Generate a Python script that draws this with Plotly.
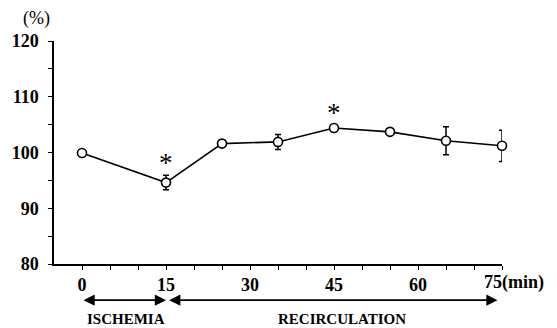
import plotly.graph_objects as go

times = [0, 15, 25, 35, 45, 55, 65, 75]
values = [99.9, 94.6, 101.6, 101.9, 104.4, 103.7, 102.1, 101.2]
errors = [0.0, 1.3, 0.6, 1.35, 0.6, 0.4, 2.5, 2.8]
star_times = [15, 45]
y_ticks = [80, 85, 90, 95, 100, 105, 110, 115, 120]
y_labels = ["80", "", "90", "", "100", "", "110", "", "120"]
x_ticks = [0, 5, 10, 15, 20, 25, 30, 35, 40, 45, 50, 55, 60, 65, 70, 75]
x_labels = ["0", "", "", "15", "", "", "30", "", "", "45", "", "", "60", "", "", ""]
last_label = "75(min)"

FONT = "Times New Roman"

fig = go.Figure()
fig.add_trace(go.Scatter(
    x=times, y=values,
    mode="lines+markers",
    line=dict(color="black", width=1.6),
    marker=dict(symbol="circle", size=9, color="white", line=dict(color="black", width=1.6)),
    error_y=dict(type="data", array=errors, visible=True, color="black", thickness=1.5, width=3),
    cliponaxis=False,
    showlegend=False,
))

for t in star_times:
    i = times.index(t)
    fig.add_annotation(x=t, y=values[i] + errors[i], xref="x", yref="y",
                       text="*", showarrow=False, yanchor="bottom", yshift=-5,
                       font=dict(family=FONT, size=27, color="black"))

fig.add_annotation(x=x_ticks[-1], y=0, xref="x", yref="paper", text="<b>" + last_label + "</b>",
                   showarrow=False, xanchor="left", yanchor="middle", xshift=-20, yshift=-18,
                   font=dict(family=FONT, size=18, color="black"))
fig.add_annotation(x=-0.038, y=1.0, xref="paper", yref="paper", text="(%)", showarrow=False,
                   xanchor="center", yanchor="bottom", yshift=10,
                   font=dict(family=FONT, size=18, color="black"))

arrow_y = -0.162
fig.add_annotation(x=15, y=arrow_y, xref="x", yref="paper", ax=0, ay=0, axref="x", ayref="pixel",
                   text="", showarrow=True, arrowhead=2, startarrowhead=2, arrowside="end+start",
                   arrowsize=1.4, startarrowsize=1.4, arrowwidth=1.6, arrowcolor="black")
fig.add_annotation(x=74.2, y=arrow_y, xref="x", yref="paper", ax=15.3, ay=0, axref="x", ayref="pixel",
                   text="", showarrow=True, arrowhead=2, startarrowhead=2, arrowside="end+start",
                   arrowsize=1.4, startarrowsize=1.4, arrowwidth=1.6, arrowcolor="black")

fig.add_annotation(x=7.8, y=-0.245, xref="x", yref="paper", text="<b>ISCHEMIA</b>", showarrow=False,
                   xanchor="center", yanchor="middle", borderpad=0,
                   font=dict(family=FONT, size=15, color="black"))
fig.add_annotation(x=46.5, y=-0.245, xref="x", yref="paper", text="<b>RECIRCULATION</b>", showarrow=False,
                   xanchor="center", yanchor="middle", borderpad=0,
                   font=dict(family=FONT, size=15, color="black"))

fig.update_layout(
    width=557, height=328,
    margin=dict(l=51, r=55, t=41, b=64),
    paper_bgcolor="white", plot_bgcolor="white",
    font=dict(family=FONT, color="black"),
    xaxis=dict(range=[-5, 75], tickmode="array", tickvals=x_ticks, ticktext=x_labels,
               showgrid=False, zeroline=False, showline=True, linecolor="black", linewidth=1.5,
               ticks="outside", ticklen=4, tickwidth=1.2, tickcolor="black",
               tickfont=dict(family=FONT, size=18, color="black", weight="bold")),
    yaxis=dict(range=[80, 120], tickmode="array", tickvals=y_ticks, ticktext=y_labels,
               showgrid=False, zeroline=False, showline=True, linecolor="black", linewidth=1.5,
               ticks="outside", ticklen=4, tickwidth=1.2, tickcolor="black",
               ticklabelstandoff=6,
               tickfont=dict(family=FONT, size=18, color="black", weight="bold")),
)

fig.write_html("out.html")
